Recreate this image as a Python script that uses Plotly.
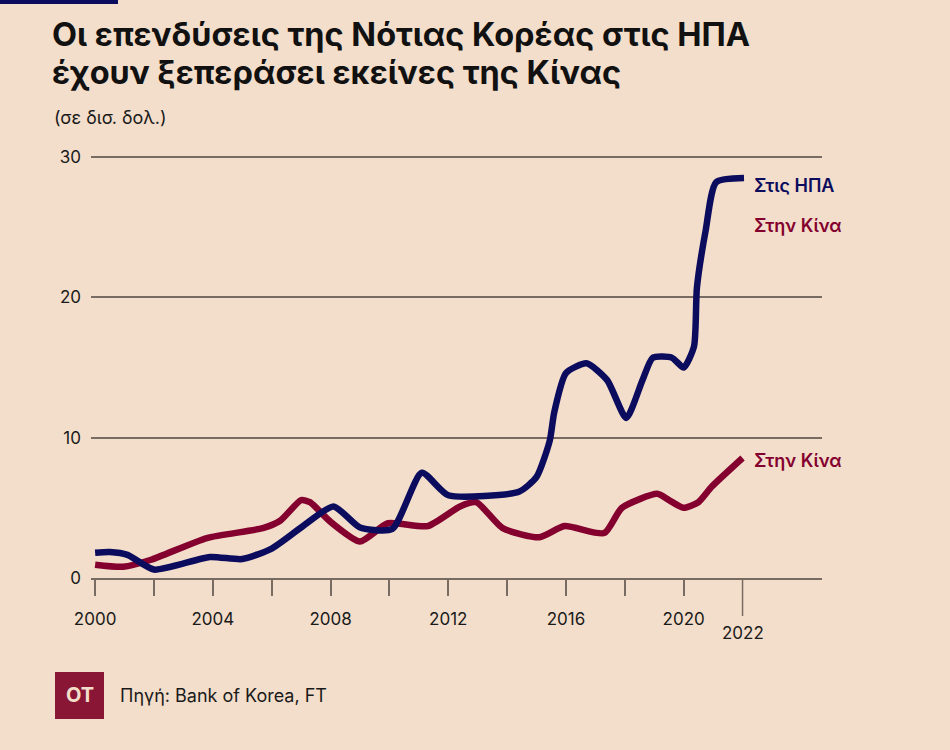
import plotly.graph_objects as go

# ---------------------------------------------------------------- DATA
# US investment by South Korea (bn $)
usa_years = [2000, 2000.5, 2001.1, 2002, 2003.9, 2005, 2006, 2007, 2008.1, 2009,
             2010.1, 2011.1, 2012, 2014.4, 2015, 2015.45, 2015.6, 2016, 2016.7,
             2017.4, 2018.05, 2018.6, 2018.95, 2019.6, 2020, 2020.35, 2020.45,
             2020.75, 2021.1, 2022.05]
usa_values = [1.8, 1.85, 1.65, 0.6, 1.5, 1.35, 2.1, 3.6, 5.1, 3.6,
              3.5, 7.5, 5.9, 6.15, 7.2, 9.8, 11.8, 14.6, 15.3,
              14.1, 11.4, 14.1, 15.7, 15.7, 15.0, 16.5, 20.7,
              24.8, 28.2, 28.5]

# China investment by South Korea (bn $)
china_years = [2000, 2000.95, 2001.9, 2003.8, 2005.7, 2006.3, 2007, 2007.3, 2008,
               2009, 2009.95, 2011.3, 2012.4, 2012.95, 2013.85, 2015.1, 2015.95,
               2017.3, 2017.9, 2019.1, 2019.5, 2020, 2020.5, 2020.95, 2022]
china_values = [0.95, 0.8, 1.3, 2.85, 3.55, 4.1, 5.55, 5.4, 4.0,
                2.6, 3.9, 3.7, 5.1, 5.4, 3.55, 2.9, 3.7,
                3.2, 5.0, 6.0, 5.55, 5.0, 5.4, 6.5, 8.55]

y_ticks = [0, 10, 20, 30]
x_ticks = list(range(2000, 2021, 2))
x_labels = [str(y) if y % 4 == 0 else "" for y in x_ticks]

title_line1 = "Οι επενδύσεις της Νότιας Κορέας στις ΗΠΑ"
title_line2 = "έχουν ξεπεράσει εκείνες της Κίνας"
unit_text = "(σε δισ. δολ.)"
source_text = "Πηγή: Bank of Korea, FT"

# ---------------------------------------------------------------- STYLE
W, H = 950, 750
BG = "#F3DECB"
NAVY = "#0C0C5E"
CRIMSON = "#84002F"
GRID = "#776B62"
TXT = "#1a1a1a"
FONT = "Inter"

# plot area in pixels
PL, PR, PT, PB = 91, 822, 143, 578


def px(x):
    return (x - PL) / (PR - PL)


def py(y):
    return (PB - y) / (PB - PT)


def label(x, y, text, size, color=TXT, weight="normal", anchor="left"):
    fig.add_annotation(x=px(x), y=py(y), xref="paper", yref="paper",
                       xanchor=anchor, yanchor="middle", text=text,
                       showarrow=False,
                       font=dict(size=size, color=color, family=FONT, weight=weight))


fig = go.Figure()

fig.add_trace(go.Scatter(
    x=china_years, y=china_values, mode="lines",
    line=dict(color=CRIMSON, width=6.5, shape="spline", smoothing=0.6),
    hoverinfo="skip",
))
fig.add_trace(go.Scatter(
    x=usa_years, y=usa_values, mode="lines",
    line=dict(color=NAVY, width=6.5, shape="spline", smoothing=0.6),
    hoverinfo="skip",
))

fig.update_layout(
    width=W, height=H,
    paper_bgcolor=BG, plot_bgcolor=BG,
    showlegend=False,
    margin=dict(l=PL, r=W - PR, t=PT, b=H - PB, pad=0),
    font=dict(family=FONT, size=17, color=TXT),
    xaxis=dict(
        range=[1999.86, 2024.7],
        tickvals=x_ticks, ticktext=x_labels,
        ticks="outside", ticklen=16, tickwidth=1.5, tickcolor=GRID,
        showline=True, linecolor=GRID, linewidth=1.5,
        showgrid=False, zeroline=False,
        ticklabelstandoff=9,
        tickfont=dict(size=17, color=TXT),
    ),
    yaxis=dict(
        range=[0, 31],
        tickvals=y_ticks,
        showgrid=True, gridcolor=GRID, gridwidth=1.5,
        zeroline=False, showline=False,
        ticklabelstandoff=9,
        tickfont=dict(size=17, color=TXT),
    ),
)

# longer tick and label for 2022
fig.add_shape(type="line", xref="x", yref="paper", x0=2022, x1=2022,
              y0=0, y1=py(616), line=dict(color=GRID, width=1.5))
fig.add_annotation(x=2022, xref="x", y=py(633), yref="paper", text="2022",
                   xanchor="center", yanchor="middle", showarrow=False,
                   font=dict(size=17, color=TXT))

# navy bar top left
fig.add_shape(type="rect", xref="paper", yref="paper",
              x0=px(0), x1=px(118), y0=py(4), y1=py(-2),
              fillcolor=NAVY, line=dict(width=0), layer="above")

# title and unit
label(50, 35, title_line1, 32.5, "#111111", "bold")
label(50, 73, title_line2, 32.5, "#111111", "bold")
label(52, 118, unit_text, 18)

# series labels
label(752, 185, "Στις ΗΠΑ", 18, NAVY, 600)
label(752, 225, "Στην Κίνα", 18, CRIMSON, 600)
label(752, 460, "Στην Κίνα", 18, CRIMSON, 600)

# logo and source
fig.add_shape(type="rect", xref="paper", yref="paper",
              x0=px(55), x1=px(104), y0=py(719), y1=py(672),
              fillcolor="#8A1636", line=dict(width=0))
label(79.5, 695, "OT", 20, "#F3DECB", "bold", anchor="center")
label(118, 695, source_text, 18)

fig.write_html("out.html",
               config={"displayModeBar": False},
               post_script="document.body.style.margin='0';"
                           "document.body.style.background='#F3DECB';")
